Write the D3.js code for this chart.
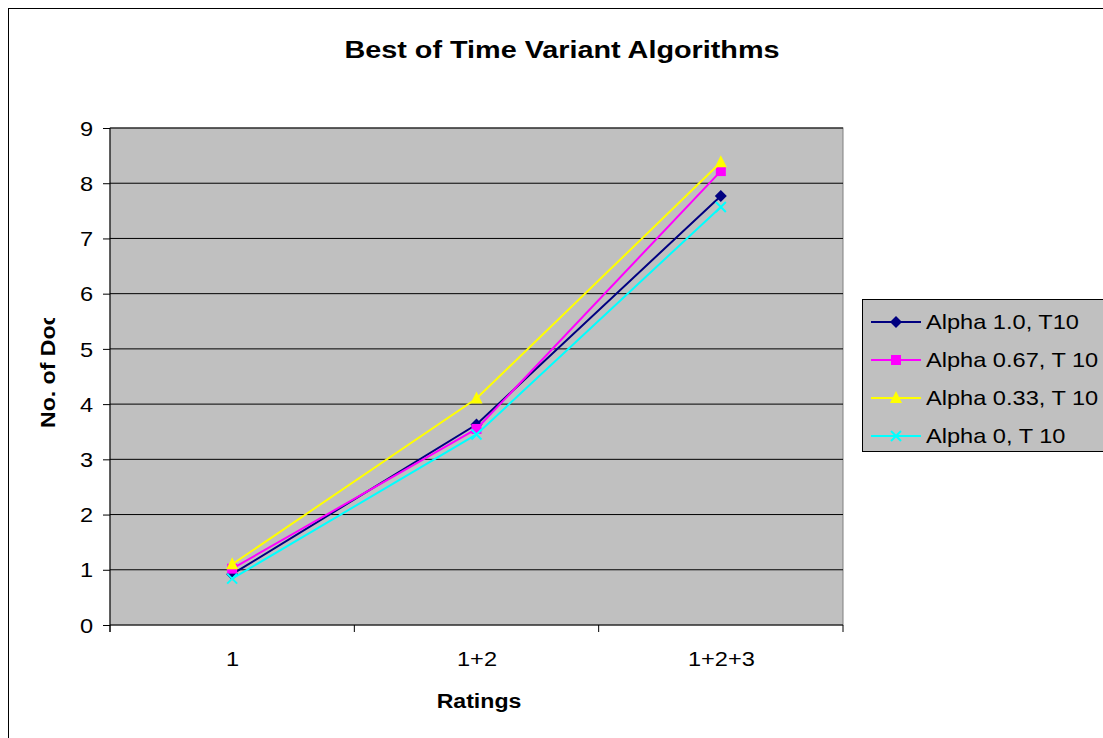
<!DOCTYPE html>
<html>
<head>
<meta charset="utf-8">
<script src="https://cdn.jsdelivr.net/npm/d3@7"></script>
<style>
body { margin: 0; background: #fff; }
text { font-family: "Liberation Sans", Arial, sans-serif; }
</style>
</head>
<body>
<div id="chart"></div>
<script>
var svgWidth = 1103;
var svgHeight = 738;

// data
var categories = ["1", "1+2", "1+2+3"];
var seriesNames = ["Alpha 1.0, T10", "Alpha 0.67, T 10", "Alpha 0.33, T 10", "Alpha 0, T 10"];
var alpha10 = [0.92, 3.63, 7.77];
var alpha067 = [1.02, 3.55, 8.22];
var alpha033 = [1.1, 4.1, 8.38];
var alpha0 = [0.84, 3.45, 7.57];
var yTicks = [0, 1, 2, 3, 4, 5, 6, 7, 8, 9];

var colors = ["#000080", "#ff00ff", "#ffff00", "#00ffff"];
var shapes = ["diamond", "square", "triangle", "x"];
var series = [alpha10, alpha067, alpha033, alpha0];

// text in the original is a bit stretched sideways
var stretch = 1.18;

var margin = { top: 128, left: 110, right: 260, bottom: 113 };
var width = 843 - margin.left;
var height = 625 - margin.top;

var svg = d3.select("#chart").append("svg")
    .attr("width", svgWidth)
    .attr("height", svgHeight);

// outer chart border
svg.append("rect")
    .attr("x", 8.5).attr("y", 8.5)
    .attr("width", 1200).attr("height", 900)
    .attr("fill", "none")
    .attr("stroke", "#000")
    .attr("stroke-width", 1);

svg.append("text")
    .attr("transform", "translate(562, 58) scale(1.2, 1)")
    .attr("text-anchor", "middle")
    .attr("font-size", 24)
    .attr("font-weight", "bold")
    .text("Best of Time Variant Algorithms");

var chartGroup = svg.append("g")
    .attr("transform", `translate(${margin.left}, ${margin.top})`);

var xScale = d3.scalePoint()
    .domain(categories)
    .range([0, width])
    .padding(0.5);

var xBand = d3.scaleBand().domain(categories).range([0, width]);

var yScale = d3.scaleLinear()
    .domain([0, 9])
    .range([height, 0]);

// plot area
chartGroup.append("rect")
    .attr("width", width).attr("height", height)
    .attr("fill", "#c0c0c0")
    .attr("stroke", "#808080");

// gridlines
chartGroup.selectAll(".grid")
    .data(yTicks.filter(d => d > 0))
    .enter().append("line")
    .attr("x1", 0).attr("x2", width)
    .attr("y1", d => yScale(d)).attr("y2", d => yScale(d))
    .attr("stroke", "#000")
    .attr("stroke-width", 1);

// y axis
var leftAxis = d3.axisLeft(yScale).tickValues(yTicks).tickSize(7).tickPadding(10);
var yAxis = chartGroup.append("g").call(leftAxis);
yAxis.select(".domain").attr("d", `M0,${height + 7}V0`).attr("stroke", "#000");
yAxis.selectAll("text")
    .attr("font-size", 20).attr("fill", "#000")
    .attr("x", -17 / stretch)
    .attr("dy", "0.36em")
    .attr("transform", `scale(${stretch}, 1)`)
    .style("font-family", "Liberation Sans, Arial, sans-serif");

// x axis
var bottomAxis = d3.axisBottom(xScale).tickSize(0).tickPadding(27);
var xAxis = chartGroup.append("g")
    .attr("transform", `translate(0, ${height})`)
    .call(bottomAxis);
xAxis.select(".domain").attr("d", `M0,0H${width}`).attr("stroke", "#000");
xAxis.selectAll("text")
    .attr("font-size", 20).attr("fill", "#000")
    .attr("transform", `scale(${stretch}, 1)`)
    .style("font-family", "Liberation Sans, Arial, sans-serif");
xAxis.selectAll(".sep")
    .data(categories.map(c => xBand(c)).concat([width]))
    .enter().append("line")
    .attr("x1", d => d).attr("x2", d => d)
    .attr("y1", 0).attr("y2", 7)
    .attr("stroke", "#000");

// axis titles
svg.append("text")
    .attr("transform", `translate(479, 708) scale(1.1, 1)`)
    .attr("text-anchor", "middle")
    .attr("font-size", 21)
    .attr("font-weight", "bold")
    .text("Ratings");

svg.append("clipPath").attr("id", "yclip")
    .append("rect").attr("x", 20).attr("y", 318).attr("width", 60).attr("height", 200);

svg.append("g")
    .attr("clip-path", "url(#yclip)")
    .append("text")
    .attr("transform", `translate(55, 428) rotate(-90) scale(1.1, 1)`)
    .attr("font-size", 21)
    .attr("font-weight", "bold")
    .text("No. of Documents");

function drawMarker(g, shape, color, x, y) {
    if (shape === "diamond") {
        g.append("path").attr("d", `M${x},${y - 6}L${x + 6},${y}L${x},${y + 6}L${x - 6},${y}Z`)
            .attr("fill", color);
    } else if (shape === "square") {
        g.append("rect").attr("x", x - 5).attr("y", y - 5).attr("width", 10).attr("height", 10)
            .attr("fill", color);
    } else if (shape === "triangle") {
        g.append("path").attr("d", `M${x},${y - 7}L${x + 6},${y + 5}L${x - 6},${y + 5}Z`)
            .attr("fill", color);
    } else {
        g.append("path").attr("d", `M${x - 5},${y - 5}L${x + 5},${y + 5}M${x - 5},${y + 5}L${x + 5},${y - 5}`)
            .attr("stroke", color).attr("stroke-width", 2).attr("fill", "none");
    }
}

var line = d3.line()
    .x((d, i) => xScale(categories[i]))
    .y(d => yScale(d));

series.forEach(function(values, s) {
    var g = chartGroup.append("g");
    g.append("path")
        .attr("d", line(values))
        .attr("fill", "none")
        .attr("stroke", colors[s])
        .attr("stroke-width", 2);
    values.forEach(function(v, i) {
        drawMarker(g, shapes[s], colors[s], xScale(categories[i]), yScale(v));
    });
});

// legend
var legend = svg.append("g");
legend.append("rect")
    .attr("x", 862.5).attr("y", 299.5)
    .attr("width", 250).attr("height", 152)
    .attr("fill", "#c0c0c0")
    .attr("stroke", "#000");

seriesNames.forEach(function(name, s) {
    var y = 322 + s * 38;
    legend.append("line")
        .attr("x1", 871).attr("x2", 921)
        .attr("y1", y).attr("y2", y)
        .attr("stroke", colors[s]).attr("stroke-width", 2);
    drawMarker(legend, shapes[s], colors[s], 896, y);
    legend.append("text")
        .attr("transform", `translate(926, ${y + 7}) scale(${stretch}, 1)`)
        .attr("font-size", 20)
        .text(name);
});
</script>
</body>
</html>
